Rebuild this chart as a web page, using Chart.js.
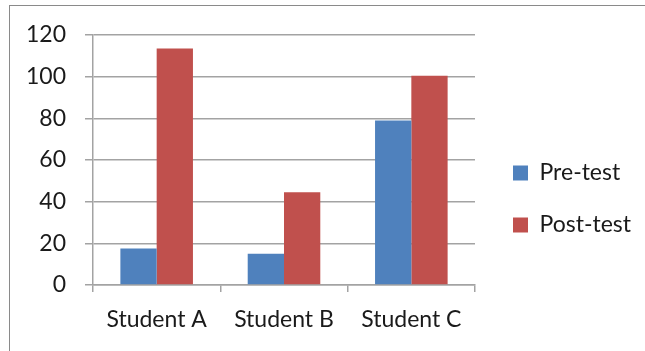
<!DOCTYPE html>
<html>
<head>
<meta charset="utf-8">
<script src="https://cdn.jsdelivr.net/npm/chart.js@4.4.1/dist/chart.umd.min.js"></script>
<style>
  html, body { margin: 0; padding: 0; background: #fff; }
  #wrap { position: relative; width: 645px; height: 351px; overflow: hidden; }
  #frame { position: absolute; left: 9px; top: 5px; width: 700px; height: 400px;
           border-left: 1.5px solid #8a8a8a; border-top: 1.5px solid #8a8a8a; }
  canvas { position: absolute; left: 0; top: 0; }
</style>
</head>
<body>
<div id="wrap">
  <div id="frame"></div>
  <canvas id="c" width="645" height="351"></canvas>
</div>
<script>
const categories = ['Student A', 'Student B', 'Student C'];
const preTest = [17.5, 15, 79];
const postTest = [113.5, 44.5, 100.5];
const yTicks = [0, 20, 40, 60, 80, 100, 120];

const FONT = "Lato, 'Open Sans', 'Liberation Sans', sans-serif";
const GRID = '#a3a3a3';

// nudges the legend block to sit a little further from the plot
const legendNudge = {
  id: 'legendNudge',
  afterLayout(chart) {
    const lg = chart.legend;
    if (!lg) return;
    const dx = 9, dy = 6;
    lg.left += dx; lg.right += dx;
    lg.top += dy; lg.bottom += dy;
  }
};

new Chart(document.getElementById('c'), {
  type: 'bar',
  data: {
    labels: categories,
    datasets: [
      { label: 'Pre-test', data: preTest, backgroundColor: '#4f81bd' },
      { label: 'Post-test', data: postTest, backgroundColor: '#c0504d' }
    ]
  },
  options: {
    responsive: false,
    animation: false,
    layout: { padding: { left: 10, top: 35, right: 15, bottom: 0 } },
    datasets: { bar: { barPercentage: 1, categoryPercentage: 0.57 } },
    plugins: {
      tooltip: { enabled: false },
      legend: {
        position: 'right',
        labels: {
          boxWidth: 15, boxHeight: 15, padding: 29,
          color: '#1a1a1a',
          font: { family: FONT, size: 23 }
        }
      }
    },
    scales: {
      x: {
        grid: { display: true, drawOnChartArea: false, drawTicks: true, tickLength: 7,
                color: GRID, lineWidth: 1.5 },
        border: { display: true, color: GRID, width: 1.5 },
        ticks: { color: '#1a1a1a', font: { family: FONT, size: 23 }, padding: 14 },
        afterFit(s) { s.height = 351 - 285; }
      },
      y: {
        min: 0, max: 120,
        afterBuildTicks(s) { s.ticks = yTicks.map(v => ({ value: v })); },
        grid: { color: GRID, lineWidth: 1.5, tickLength: 8, drawTicks: true },
        border: { display: true, color: GRID, width: 1.5 },
        ticks: { color: '#1a1a1a', font: { family: FONT, size: 23 }, padding: 19 },
        afterFit(s) { s.width = 93 - 10; }
      }
    }
  },
  plugins: [legendNudge]
});
</script>
</body>
</html>
